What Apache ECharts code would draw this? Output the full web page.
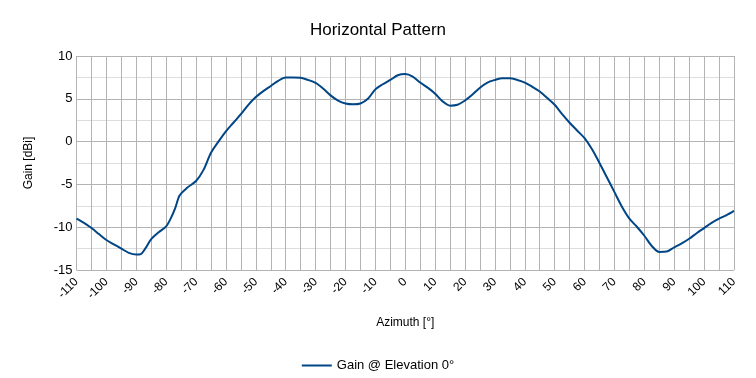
<!DOCTYPE html>
<html>
<head>
<meta charset="utf-8">
<script src="https://cdn.jsdelivr.net/npm/echarts@6/dist/echarts.min.js"></script>
<style>
  html, body { margin: 0; padding: 0; background: #fff; }
  #container { width: 756px; height: 378px; }
</style>
</head>
<body>
<div id="container"></div>
<script>
// azimuth in degrees, gain in dBi
const azimuth = [
  -110, -107.5, -105, -102.5, -100, -97.5, -95, -92.5, -90, -88.5,
  -87, -85, -82.5, -80, -78.5, -77, -75.5, -73, -70, -67.5,
  -65, -62.5, -60, -57.5, -55, -52.5, -50, -47.5, -45, -42.5,
  -40, -37.5, -35, -32.5, -30, -27.5, -25, -22.5, -20, -17.5,
  -15, -12.5, -10, -7.5, -5, -2.5, 0, 2.5, 5, 7.5,
  10, 12.5, 15, 17.5, 20, 22.5, 25, 27.5, 30, 32.5,
  35, 37.5, 40, 42.5, 45, 47.5, 50, 52.5, 55, 57.5,
  60, 62.5, 65, 67.5, 70, 72.5, 75, 77.5, 80, 82.5,
  85, 87.5, 90, 92.5, 95, 97.5, 100, 102.5, 105, 107.5, 110
];
const gain = [
  -9.0, -9.5, -10.1, -10.8, -11.5, -12.0, -12.5, -13.0, -13.2, -13.15,
  -12.5, -11.4, -10.6, -9.9, -9.0, -7.8, -6.3, -5.4, -4.6, -3.3,
  -1.3, 0.0, 1.2, 2.2, 3.2, 4.3, 5.2, 5.9, 6.5, 7.1,
  7.5, 7.5, 7.45, 7.2, 6.85, 6.2, 5.4, 4.8, 4.45, 4.35,
  4.45, 5.0, 6.1, 6.7, 7.2, 7.75, 7.9, 7.6, 6.9, 6.3,
  5.6, 4.7, 4.2, 4.3, 4.8, 5.5, 6.3, 6.9, 7.2, 7.4,
  7.4, 7.2, 6.9, 6.4, 5.85, 5.1, 4.3, 3.2, 2.2, 1.3,
  0.4, -0.9, -2.5, -4.2, -5.9, -7.6, -9.0, -9.95, -11.0, -12.2,
  -12.9, -12.85, -12.35, -11.9, -11.35, -10.7, -10.1, -9.5, -9.0, -8.6, -8.1
];
const seriesName = 'Gain @ Elevation 0°';

const font = 'Liberation Sans, Arial, sans-serif';

let option = {
    animation: false,
    textStyle: { fontFamily: font },
    title: {
        text: 'Horizontal Pattern',
        left: 'center',
        top: 17,
        textStyle: { fontFamily: font, fontSize: 17, fontWeight: 'normal', color: '#000' }
    },
    legend: {
        bottom: 1,
        left: 'center',
        icon: 'rect',
        itemWidth: 30,
        itemHeight: 2,
        textStyle: { fontFamily: font, fontSize: 13, color: '#000' },
        data: [seriesName]
    },
    grid: {
        left: 76.5,
        right: 22,
        top: 56,
        bottom: 108,
        containLabel: false
    },
    xAxis: {
        type: 'value',
        min: -110,
        max: 110,
        interval: 10,
        name: 'Azimuth [°]',
        nameLocation: 'middle',
        nameGap: 47,
        nameTextStyle: { fontFamily: font, fontSize: 12, color: '#000' },
        axisLine: { show: false, onZero: false },
        axisTick: { show: false },
        axisLabel: { rotate: 45, fontSize: 12, color: '#000', margin: 10, fontFamily: font },
        splitLine: { show: true, lineStyle: { color: '#b3b3b3', width: 1 } },
        minorTick: { show: false, splitNumber: 2 },
        minorSplitLine: { show: true, lineStyle: { color: '#b3b3b3', width: 1 } }
    },
    yAxis: {
        type: 'value',
        min: -15,
        max: 10,
        interval: 5,
        name: 'Gain [dBi]',
        nameLocation: 'middle',
        nameGap: 42,
        nameTextStyle: { fontFamily: font, fontSize: 12, color: '#000' },
        axisLine: { show: false },
        axisTick: { show: false },
        axisLabel: { fontSize: 13, color: '#000', margin: 4, fontFamily: font },
        splitLine: { show: true, lineStyle: { color: '#b3b3b3', width: 1 } },
        minorTick: { show: false, splitNumber: 2 },
        minorSplitLine: { show: true, lineStyle: { color: '#dddddd', width: 1 } }
    },
    series: [
        {
            name: seriesName,
            type: 'line',
            smooth: 0.3,
            symbol: 'none',
            lineStyle: { color: '#004586', width: 2 },
            itemStyle: { color: '#004586' },
            data: azimuth.map((a, i) => [a, gain[i]])
        }
    ]
};

let chrt = echarts.init(document.getElementById('container'));
chrt.setOption(option);
</script>
</body>
</html>
